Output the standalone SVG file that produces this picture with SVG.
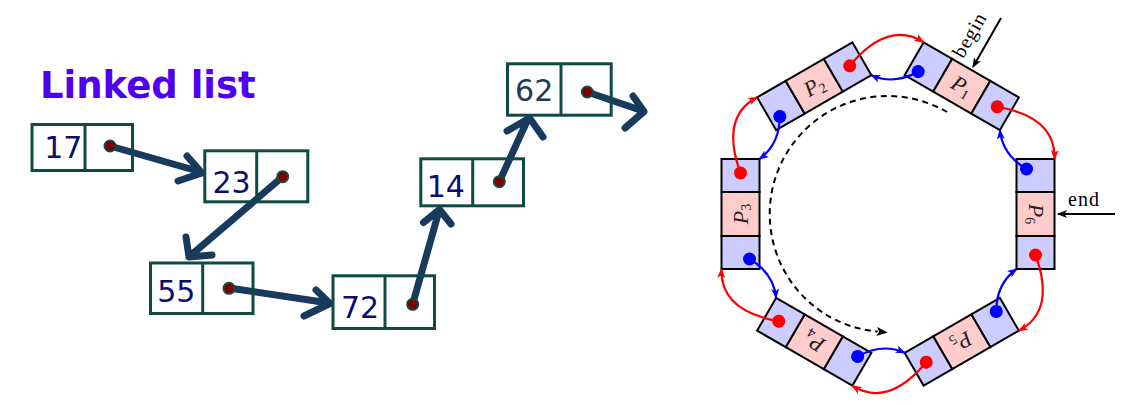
<svg xmlns="http://www.w3.org/2000/svg" xmlns:xlink="http://www.w3.org/1999/xlink" width="1136" height="406" viewBox="0 0 1136 406">
<defs>
<style>
.title{font-family:"DejaVu Sans",sans-serif;font-weight:bold;font-size:37px;fill:#5000ee}
.box{fill:none;stroke:#0f4a43;stroke-width:3}
.num{font-family:"DejaVu Sans",sans-serif;font-size:30px;fill:#0c0c72;text-anchor:middle}
.ptr{fill:#800000;stroke:#134a42;stroke-width:2}
.arr{fill:none;stroke:#173a5e;stroke-width:7;stroke-linecap:round;stroke-linejoin:round}
.cb{fill:#ccccff;stroke:#000;stroke-width:2}
.cp{fill:#ffcccc;stroke:#000;stroke-width:2}
.rd{fill:#ff0000}
.bd{fill:#0000ff}
.pl{font-family:"Liberation Serif",serif;font-size:22px;font-style:italic;text-anchor:middle;fill:#222}
.sub{font-size:14px;font-style:normal}
.ra{fill:none;stroke:#ff0000;stroke-width:2.2;marker-end:url(#mr)}
.ba{fill:none;stroke:#0000ff;stroke-width:2.2;marker-end:url(#mb)}
.ka{fill:none;stroke:#000;stroke-width:2;marker-end:url(#mk)}
.lbl{font-family:"Liberation Serif",serif;font-size:20px;fill:#000}
</style>
<marker id="mr" markerUnits="userSpaceOnUse" viewBox="0 0 10 8" markerWidth="10" markerHeight="8" refX="9" refY="4" orient="auto"><path d="M0,0 L10,4 L0,8 L2.5,4 Z" fill="#ff0000"/></marker>
<marker id="mb" markerUnits="userSpaceOnUse" viewBox="0 0 10 8" markerWidth="10" markerHeight="8" refX="9" refY="4" orient="auto"><path d="M0,0 L10,4 L0,8 L2.5,4 Z" fill="#0000ff"/></marker>
<marker id="mk" markerUnits="userSpaceOnUse" viewBox="0 0 10 8" markerWidth="10" markerHeight="8" refX="9" refY="4" orient="auto"><path d="M0,0 L10,4 L0,8 L2.5,4 Z" fill="#000"/></marker>
<marker id="md" markerUnits="userSpaceOnUse" viewBox="0 0 11 9" markerWidth="11" markerHeight="9" refX="1" refY="4.5" orient="auto"><path d="M0,0 L11,4.5 L0,9 L2.5,4.5 Z" fill="#000"/></marker>
<g id="ringbox">
<rect class="cb" x="833" y="47.5" width="33" height="38"/>
<rect class="cp" x="866" y="47.5" width="44" height="38"/>
<rect class="cb" x="910" y="47.5" width="33" height="38"/>
<circle class="rd" cx="929" cy="66.5" r="6.5"/>
<circle class="bd" cx="843" cy="75.5" r="6.5"/>
</g>
</defs>
<rect width="1136" height="406" fill="#fff"/>
<text class="title" x="40" y="98">Linked list</text>

<g id="P1" transform="rotate(30 888 214)"><use xlink:href="#ringbox"/><text class="pl" x="888" y="73.5">P<tspan class="sub" dy="3.5">1</tspan></text></g>
<g id="P2" transform="rotate(-30 888 214)"><use xlink:href="#ringbox"/><text class="pl" x="888" y="73.5">P<tspan class="sub" dy="3.5">2</tspan></text></g>
<g id="P3" transform="rotate(-90 888 214)"><use xlink:href="#ringbox"/><text class="pl" x="888" y="73.5">P<tspan class="sub" dy="3.5">3</tspan></text></g>
<g id="P4" transform="rotate(210 888 214)"><use xlink:href="#ringbox"/><text class="pl" x="888" y="73.5">P<tspan class="sub" dy="3.5">4</tspan></text></g>
<g id="P5" transform="rotate(150 888 214)"><use xlink:href="#ringbox"/><text class="pl" x="888" y="73.5">P<tspan class="sub" dy="3.5">5</tspan></text></g>
<g id="P6" transform="rotate(90 888 214)"><use xlink:href="#ringbox"/><text class="pl" x="888" y="73.5">P<tspan class="sub" dy="3.5">6</tspan></text></g>

<g id="connectors">
<path class="arr" d="M110,146 L201,172 M187,156 L202,173 L178,181"/>
<path class="arr" d="M282.7,176.7 L190,256 M186,237 L189,257 L212,255"/>
<path class="arr" d="M229,288 L329,303 M316,290 L330,303.5 L304,316"/>
<path class="arr" d="M412.7,304 L439,211 M423.5,222.5 L439.5,209.5 L451,224"/>
<path class="arr" d="M499.3,181.7 L528,119 M507,131 L529.5,118 L543,137"/>
<path class="arr" d="M587.3,92 L643,111 M633,96 L644,111.5 L625,128"/>
<g id="red-links">
<path class="ra" transform="rotate(-30 888 214)" d="M929,66.5 Q985,46 1004.7,83.1"/>
<path class="ra" transform="rotate(30 888 214)" d="M929,66.5 Q985,46 1004.7,83.1"/>
<path class="ra" transform="rotate(90 888 214)" d="M929,66.5 Q985,46 1004.7,83.1"/>
<path class="ra" transform="rotate(150 888 214)" d="M929,66.5 Q985,46 1004.7,83.1"/>
<path class="ra" transform="rotate(210 888 214)" d="M929,66.5 Q985,46 1004.7,83.1"/>
<path class="ra" transform="rotate(270 888 214)" d="M929,66.5 Q985,46 1004.7,83.1"/>
</g>
<g id="blue-links">
<path class="ba" transform="rotate(-30 888 214)" d="M985.4,105.75 Q957.7,105.7 943,85.5"/>
<path class="ba" transform="rotate(30 888 214)" d="M985.4,105.75 Q957.7,105.7 943,85.5"/>
<path class="ba" transform="rotate(90 888 214)" d="M985.4,105.75 Q957.7,105.7 943,85.5"/>
<path class="ba" transform="rotate(150 888 214)" d="M985.4,105.75 Q957.7,105.7 943,85.5"/>
<path class="ba" transform="rotate(210 888 214)" d="M985.4,105.75 Q957.7,105.7 943,85.5"/>
<path class="ba" transform="rotate(270 888 214)" d="M985.4,105.75 Q957.7,105.7 943,85.5"/>
</g>
<path d="M947,112 A118,118 0 1 0 877.7,331.6" fill="none" stroke="#000" stroke-width="2" stroke-dasharray="6 4.5" marker-end="url(#md)"/>
<path class="ka" d="M1001,18 L973,67"/>
<path class="ka" d="M1115,214 L1058,214"/>
</g>

<text class="lbl" transform="translate(975,38.5) rotate(-60)" text-anchor="middle" textLength="48" lengthAdjust="spacing">begin</text>
<text class="lbl" x="1068" y="206" textLength="31" lengthAdjust="spacing">end</text>

<g id="n17"><rect class="box" x="32" y="124.5" width="100.5" height="46"/><line class="box" x1="85" y1="124.5" x2="85" y2="170.5"/><text class="num" x="63.3" y="158.3">17</text><circle class="ptr" cx="110" cy="146" r="5.5"/></g>
<g id="n23"><rect class="box" x="204.8" y="150.8" width="103" height="51"/><line class="box" x1="256.7" y1="150.8" x2="256.7" y2="201.8"/><text class="num" x="231.5" y="193.3">23</text><circle class="ptr" cx="282.7" cy="176.7" r="5.5"/></g>
<g id="n55"><rect class="box" x="150.5" y="263" width="102.5" height="50.5"/><line class="box" x1="202.7" y1="263" x2="202.7" y2="313.5"/><text class="num" x="176.3" y="301.7">55</text><circle class="ptr" cx="229" cy="288.3" r="5.5"/></g>
<g id="n72"><rect class="box" x="333" y="275.8" width="101.5" height="52.7"/><line class="box" x1="385" y1="275.8" x2="385" y2="328.5"/><text class="num" x="360" y="318.3">72</text><circle class="ptr" cx="412.7" cy="304.3" r="5.5"/></g>
<g id="n14"><rect class="box" x="420.8" y="158.8" width="102.7" height="47"/><line class="box" x1="472.7" y1="158.8" x2="472.7" y2="205.8"/><text class="num" x="445.8" y="196.7">14</text><circle class="ptr" cx="499.3" cy="181.7" r="5.5"/></g>
<g id="n62"><rect class="box" x="507.5" y="63.8" width="103.7" height="51.4"/><line class="box" x1="561" y1="63.8" x2="561" y2="115.2"/><text class="num" x="534.2" y="100.7" style="fill:#1c3a5a">62</text><circle class="ptr" cx="587.3" cy="92" r="5.5"/></g>
</svg>
